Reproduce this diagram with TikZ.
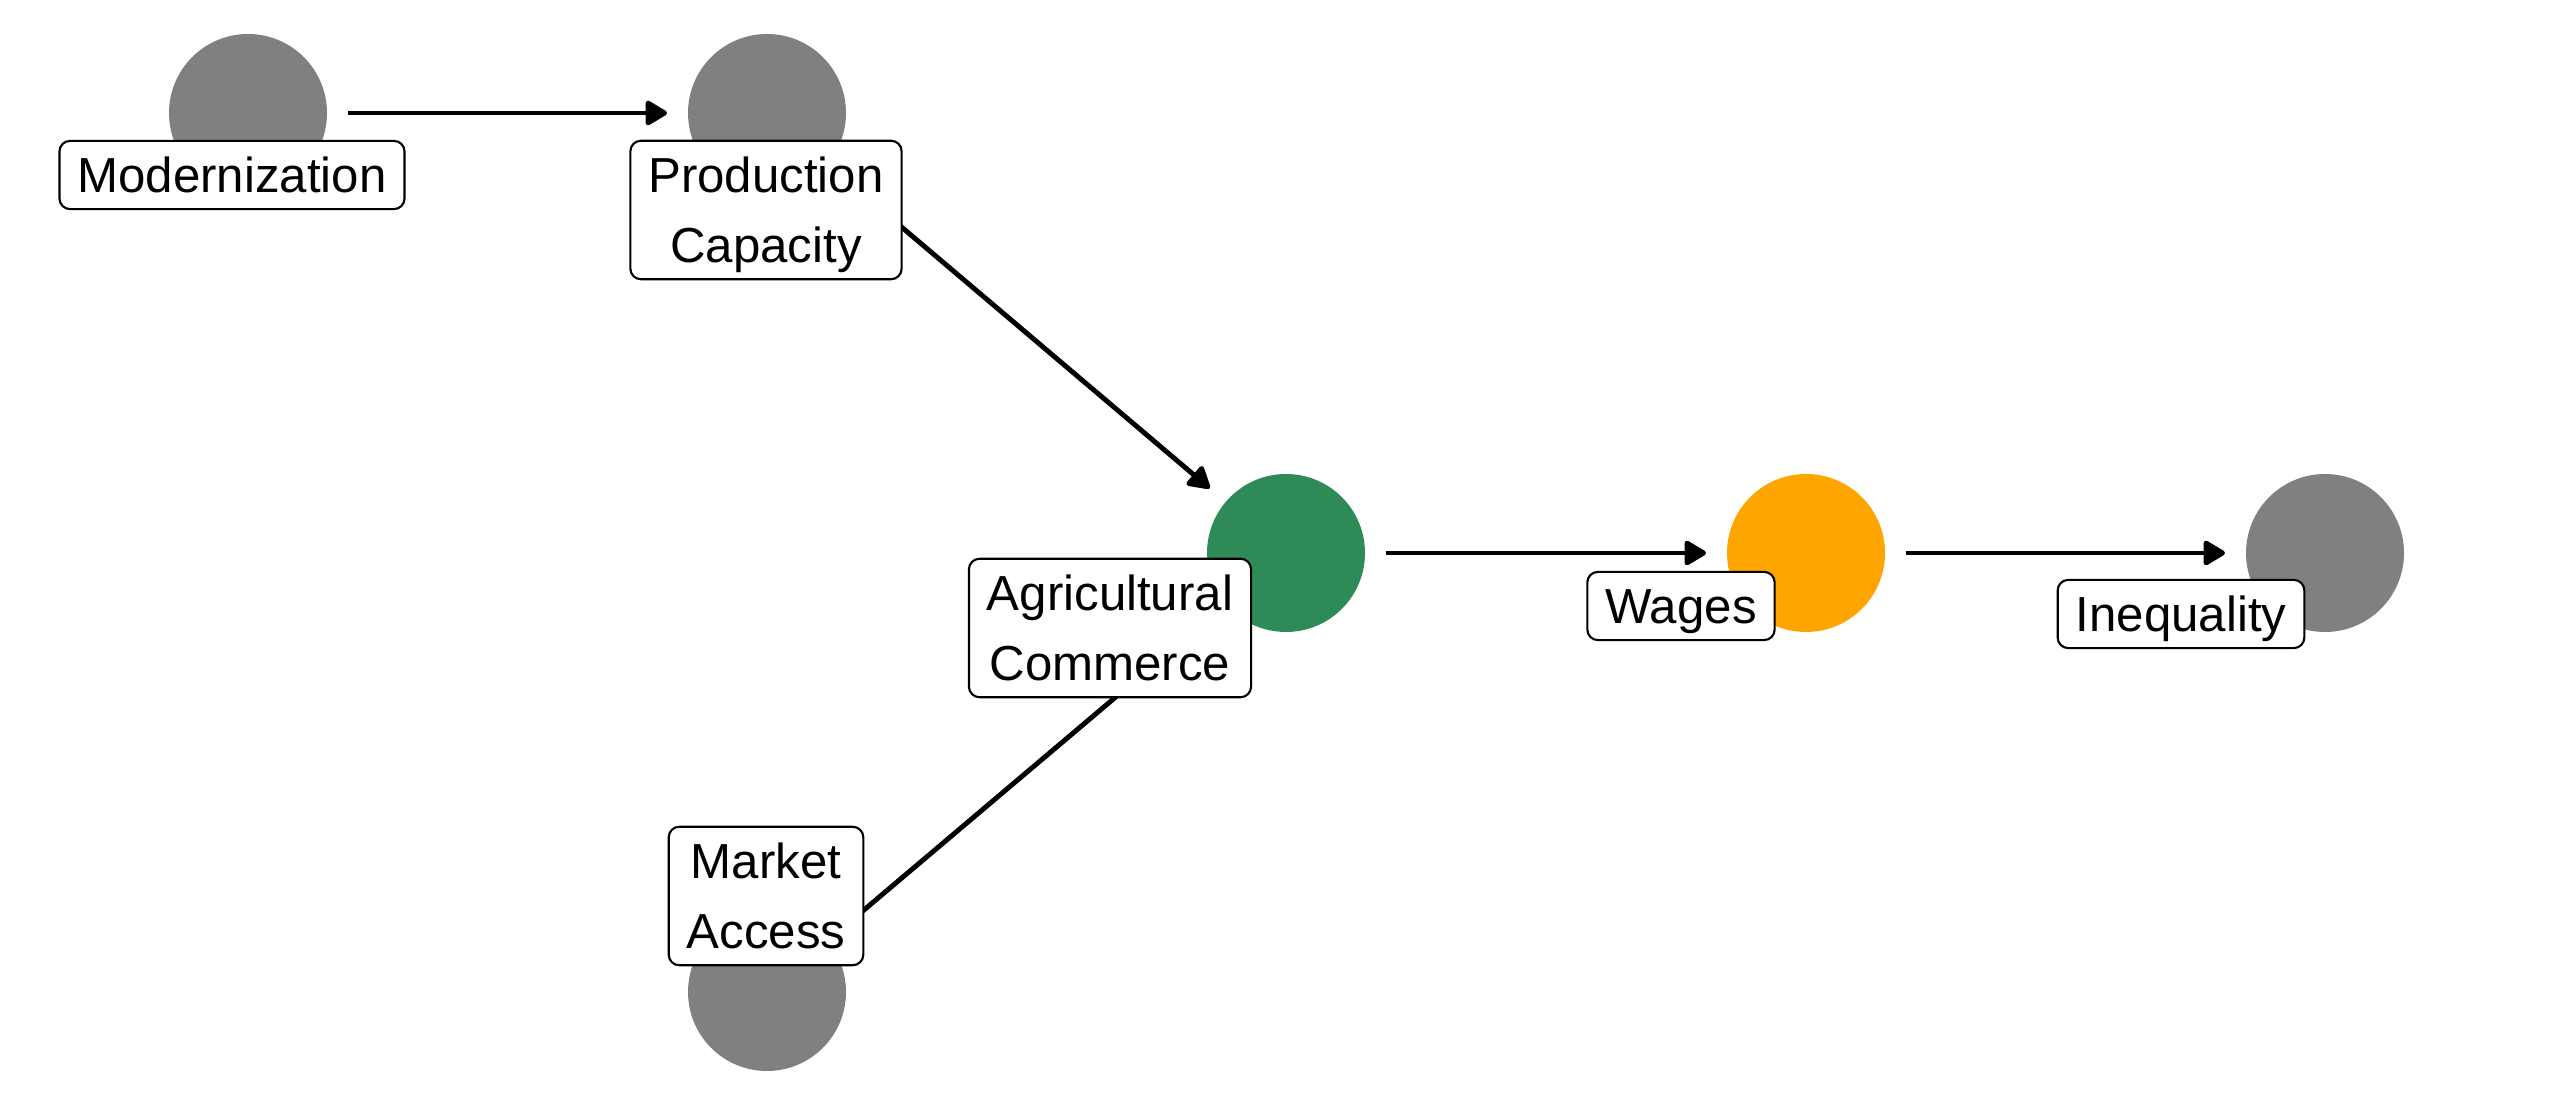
\documentclass[tikz,border=0pt]{standalone}
\usepackage{fontspec}
\setmainfont{Liberation Sans}
\usetikzlibrary{arrows.meta}
\definecolor{dagrey}{HTML}{808080}
\definecolor{dagreen}{HTML}{2E8B57}
\definecolor{dagorange}{HTML}{FFA500}
\newcommand{\ls}{\rule[-0.21em]{0pt}{1.136em}}
\tikzset{
  var/.style={circle, minimum size=1.58cm, inner sep=0pt, outer sep=0pt},
  lbl/.style={draw=black, line width=0.6pt, fill=white, rounded corners=3pt, align=center,
    inner xsep=0.18cm, inner ysep=1.75pt, font=\fontsize{14}{20}\selectfont},
  edge/.style={line width=1.4pt, -{Triangle[length=0.24cm, width=0.27cm, round]},
    shorten >=0.21cm, shorten <=0.21cm}
}
\begin{document}
\begin{tikzpicture}
\useasboundingbox (0,0) rectangle (25.6,11.2);

% Variables
\node [var, fill=dagrey] (mod) at (2.48,10.07) {};
\node [var, fill=dagrey] (prod) at (7.67,10.07) {};
\node [var, fill=dagreen] (agri) at (12.86,5.67) {};
\node [var, fill=dagrey] (mkt) at (7.67,1.28) {};
\node [var, fill=dagorange] (wag) at (18.06,5.67) {};
\node [var, fill=dagrey] (ineq) at (23.25,5.67) {};

% Edges
\draw [edge] (mod) -- (prod);
\draw [edge] (prod) -- (agri);
\draw [edge] (mkt) -- (agri);
\draw [edge] (agri) -- (wag);
\draw [edge] (wag) -- (ineq);

% Labels
\node [lbl] (lmod) at (2.32,9.45) {\ls Modernization};
\node [lbl] (lprod) at (7.66,9.10) {\ls Production\\\ls Capacity};
\node [lbl] (lagri) at (11.10,4.92) {\ls Agricultural\\\ls Commerce};
\node [lbl] (lmkt) at (7.66,2.24) {\ls Market\\\ls Access};
\node [lbl] (lwag) at (16.81,5.14) {\ls Wages};
\node [lbl] (lineq) at (21.81,5.06) {\ls Inequality};
\end{tikzpicture}
\end{document}
